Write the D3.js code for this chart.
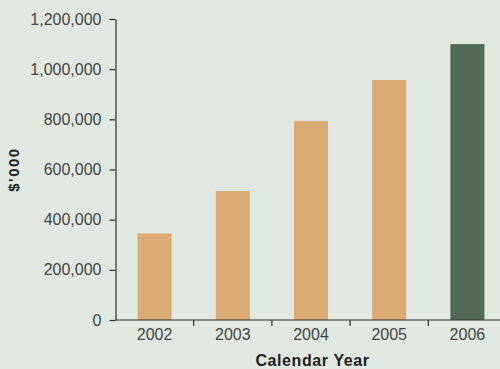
<!DOCTYPE html>
<html>
<head>
<meta charset="utf-8">
<script src="https://cdn.jsdelivr.net/npm/d3@7"></script>
<style>
  html, body { margin: 0; padding: 0; background: #e1e8e1; }
  svg { display: block; }
  text { font-family: "Liberation Sans", Arial, Helvetica, sans-serif; }
</style>
</head>
<body>
<svg id="chart" width="500" height="369"></svg>
<script>
const years = ["2002", "2003", "2004", "2005", "2006"];
const values = [345000, 514000, 793000, 957000, 1100000];
const barColors = ["#d9aa72", "#d9aa72", "#d9aa72", "#d9aa72", "#536b56"];
const yTicks = [0, 200000, 400000, 600000, 800000, 1000000, 1200000];
const yTitle = "$'000";
const xTitle = "Calendar Year";

const W = 500, H = 369;
const svg = d3.select("#chart");
svg.append("rect").attr("width", W).attr("height", H).attr("fill", "#e1e8e1");

const x0 = 115.5, y0 = 320;
const x = d3.scaleBand().domain(years).range([x0, 506.5]).padding(0);
const y = d3.scaleLinear().domain([0, 1200000]).range([y0, 19]);
const barW = x.bandwidth() * 0.435;

// bars
svg.append("g").selectAll("rect").data(years).join("rect")
  .attr("x", (d) => x(d) + (x.bandwidth() - barW) / 2)
  .attr("width", barW)
  .attr("y", (d, i) => y(values[i]))
  .attr("height", (d, i) => y0 - y(values[i]))
  .attr("fill", (d, i) => barColors[i]);

// y axis
const fmt = d3.format(",");
const gy = svg.append("g").attr("transform", `translate(${x0},0)`)
  .call(d3.axisLeft(y).tickValues(yTicks).tickFormat(fmt).tickSizeInner(6).tickSizeOuter(0).tickPadding(8));
gy.select(".domain").attr("stroke", "#2e2e2e").attr("stroke-width", 1.2);
gy.selectAll(".tick line").attr("stroke", "#2e2e2e").attr("stroke-width", 1.2);
gy.selectAll(".tick text").attr("fill", "#444").style("font-size", "16px")
  .style("font-family", "'Liberation Sans', Arial, sans-serif");

// x axis labels
const gx = svg.append("g").attr("transform", `translate(0,${y0})`)
  .call(d3.axisBottom(x).tickSize(0).tickPadding(9));
gx.select(".domain").remove();
gx.selectAll(".tick text").attr("fill", "#444").style("font-size", "16px")
  .style("font-family", "'Liberation Sans', Arial, sans-serif");

// x axis line and boundary ticks
svg.append("line").attr("x1", x0).attr("x2", W).attr("y1", y0).attr("y2", y0)
  .attr("stroke", "#2e2e2e").attr("stroke-width", 1.2);
svg.append("g").selectAll("line").data(years.slice(1)).join("line")
  .attr("x1", (d) => x(d)).attr("x2", (d) => x(d))
  .attr("y1", y0).attr("y2", y0 + 6)
  .attr("stroke", "#2e2e2e").attr("stroke-width", 1.2);

// titles
svg.append("text")
  .attr("transform", "translate(19,169.5) rotate(-90)")
  .attr("text-anchor", "middle")
  .style("font-size", "15px").style("font-weight", "bold").style("letter-spacing", "1.5px")
  .attr("fill", "#222")
  .text(yTitle);

svg.append("text")
  .attr("x", 312.5).attr("y", 366)
  .attr("text-anchor", "middle")
  .style("font-size", "16px").style("font-weight", "bold").style("letter-spacing", "0.6px")
  .attr("fill", "#222")
  .text(xTitle);
</script>
</body>
</html>
